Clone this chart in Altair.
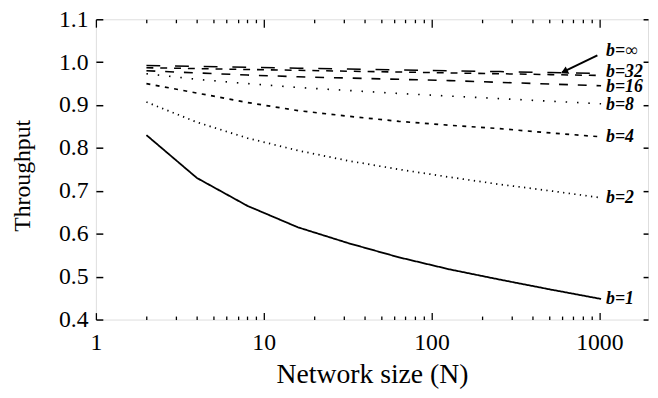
import altair as alt
import pandas as pd

# ---- data ----
N = [2, 4, 8, 16, 32, 64, 128, 256, 512, 1024]
series = ["b=1", "b=2", "b=4", "b=8", "b=16", "b=32", "b=∞"]
t_b1 = [0.830, 0.730, 0.665, 0.615, 0.578, 0.545, 0.517, 0.493, 0.470, 0.448]
t_b2 = [0.907, 0.860, 0.823, 0.794, 0.770, 0.750, 0.732, 0.715, 0.700, 0.684]
t_b4 = [0.950, 0.928, 0.906, 0.887, 0.874, 0.862, 0.853, 0.845, 0.835, 0.826]
t_b8 = [0.973, 0.960, 0.950, 0.941, 0.934, 0.927, 0.921, 0.915, 0.909, 0.903]
t_b16 = [0.980, 0.975, 0.970, 0.966, 0.963, 0.960, 0.957, 0.953, 0.949, 0.945]
t_b32 = [0.987, 0.985, 0.983, 0.981, 0.979, 0.977, 0.975, 0.973, 0.971, 0.969]
t_binf = [0.992, 0.990, 0.988, 0.986, 0.984, 0.982, 0.980, 0.978, 0.976, 0.974]
all_t = [t_b1, t_b2, t_b4, t_b8, t_b16, t_b32, t_binf]

label_text = ["b=1", "b=2", "b=4", "b=8", "b=16", "b=32", "b=∞"]
label_y = [0.448, 0.684, 0.826, 0.899, 0.941, 0.976, 1.027]
label_x = [1024] * 7

arrow_from = (973, 1.016)
arrow_to = (600, 0.976)
arrow_head = (627, 0.979)

y_ticks = [0.4, 0.5, 0.6, 0.7, 0.8, 0.9, 1.0, 1.1]
x_labels = [1, 10, 100, 1000]
x_ticks = [1, 2, 3, 4, 5, 6, 7, 8, 9, 10, 20, 30, 40, 50, 60, 70, 80, 90,
           100, 200, 300, 400, 500, 600, 700, 800, 900, 1000]

dashes = [[1, 0], [1.3, 4.4], [4, 5.5], [1.5, 10], [9, 10], [7, 7], [14, 15]]
widths = [1.8, 1.5, 2.4, 1.5, 2.0, 2.0, 2.4]

rows = []
for s, ts in zip(series, all_t):
    for n, t in zip(N, ts):
        rows.append({"N": n, "T": t, "b": s})
df = pd.DataFrame(rows)
lab = pd.DataFrame({"x": label_x, "y": label_y, "text": label_text})
arr = pd.DataFrame({"x": [arrow_from[0]], "y": [arrow_from[1]],
                    "x2": [arrow_to[0]], "y2": [arrow_to[1]]})
head = pd.DataFrame({"x": [arrow_head[0]], "y": [arrow_head[1]]})

W, H = 559, 304
FONT = "Liberation Serif"
xscale = alt.Scale(type="log", domain=[1, 1950], nice=False)
yscale = alt.Scale(domain=[0.4, 1.1], nice=False, zero=False)
major_test = "datum.value == 1 || datum.value == 10 || datum.value == 100 || datum.value == 1000"

x_lab_axis = alt.Axis(values=x_labels, format="d", ticks=False, tickSize=0, domain=False, grid=False,
                      labelPadding=11, labelFont=FONT, labelFontSize=24, labelColor="black",
                      title="Network size (N)", titleFont=FONT, titleFontSize=28,
                      titleFontWeight="normal", titleColor="black", titlePadding=7,
                      labelFlush=False)
y_lab_axis = alt.Axis(values=y_ticks, format=".1f", ticks=False, tickSize=0, domain=False, grid=False,
                      labelPadding=8, labelFont=FONT, labelFontSize=24, labelColor="black",
                      title="Throughput", titleFont=FONT, titleFontSize=24,
                      titleFontWeight="normal", titleColor="black",
                      titleX=-74, titleY=158, titleBaseline="middle", titleAngle=-90,
                      labelFlush=False)

x_tick_bottom = alt.Axis(orient="top", offset=-H, values=x_ticks, labels=False, domain=False,
                         grid=False, title=None, tickColor="black", tickWidth=1.3,
                         tickSize={"condition": {"test": major_test, "value": 7}, "value": 3.5})
x_tick_top = alt.Axis(orient="bottom", offset=-H, values=x_ticks, labels=False, domain=False,
                      grid=False, title=None, tickColor="black", tickWidth=1.3,
                      tickSize={"condition": {"test": major_test, "value": 8}, "value": 3.5})
y_tick_left = alt.Axis(orient="right", offset=-W, values=y_ticks, labels=False, domain=False,
                       grid=False, title=None, tickColor="black", tickWidth=1.5, tickSize=7)
y_tick_right = alt.Axis(orient="left", offset=-W, values=y_ticks, labels=False, domain=False,
                        grid=False, title=None, tickColor="black", tickWidth=1.5, tickSize=5)

lines = alt.Chart(df).mark_line(color="black").encode(
    x=alt.X("N:Q", scale=xscale, axis=x_lab_axis),
    y=alt.Y("T:Q", scale=yscale, axis=y_lab_axis),
    detail="b:N",
    strokeDash=alt.StrokeDash("b:N", scale=alt.Scale(domain=series, range=dashes), legend=None),
    strokeWidth=alt.StrokeWidth("b:N", scale=alt.Scale(domain=series, range=widths), legend=None),
)

labels = alt.Chart(lab).mark_text(align="left", baseline="middle", dx=5, font=FONT,
                                  fontStyle="italic", fontWeight="bold", fontSize=18,
                                  color="black").encode(
    x=alt.X("x:Q", scale=xscale, axis=x_tick_bottom),
    y=alt.Y("y:Q", scale=yscale, axis=y_tick_left),
    text="text:N",
)

arrow = alt.Chart(arr).mark_rule(color="black", strokeWidth=2).encode(
    x=alt.X("x:Q", scale=xscale, axis=x_tick_top),
    y=alt.Y("y:Q", scale=yscale, axis=y_tick_right),
    x2="x2:Q",
    y2="y2:Q",
)

arrowhead = alt.Chart(head).mark_point(shape="triangle", filled=True, size=70, angle=244,
                                       color="black", opacity=1).encode(
    x=alt.X("x:Q", scale=xscale, axis=None),
    y=alt.Y("y:Q", scale=yscale, axis=None),
)

chart = alt.layer(lines, labels, arrow, arrowhead).resolve_axis(
    x="independent", y="independent"
).properties(
    width=W, height=H,
    autosize=alt.AutoSizeParams(type="none"),
    padding={"left": 89, "top": 9, "right": 2, "bottom": 76},
).configure_view(stroke="black", strokeWidth=1.6).configure(background="white")

chart.save("out.html", embed_options={"renderer": "svg", "actions": False})
